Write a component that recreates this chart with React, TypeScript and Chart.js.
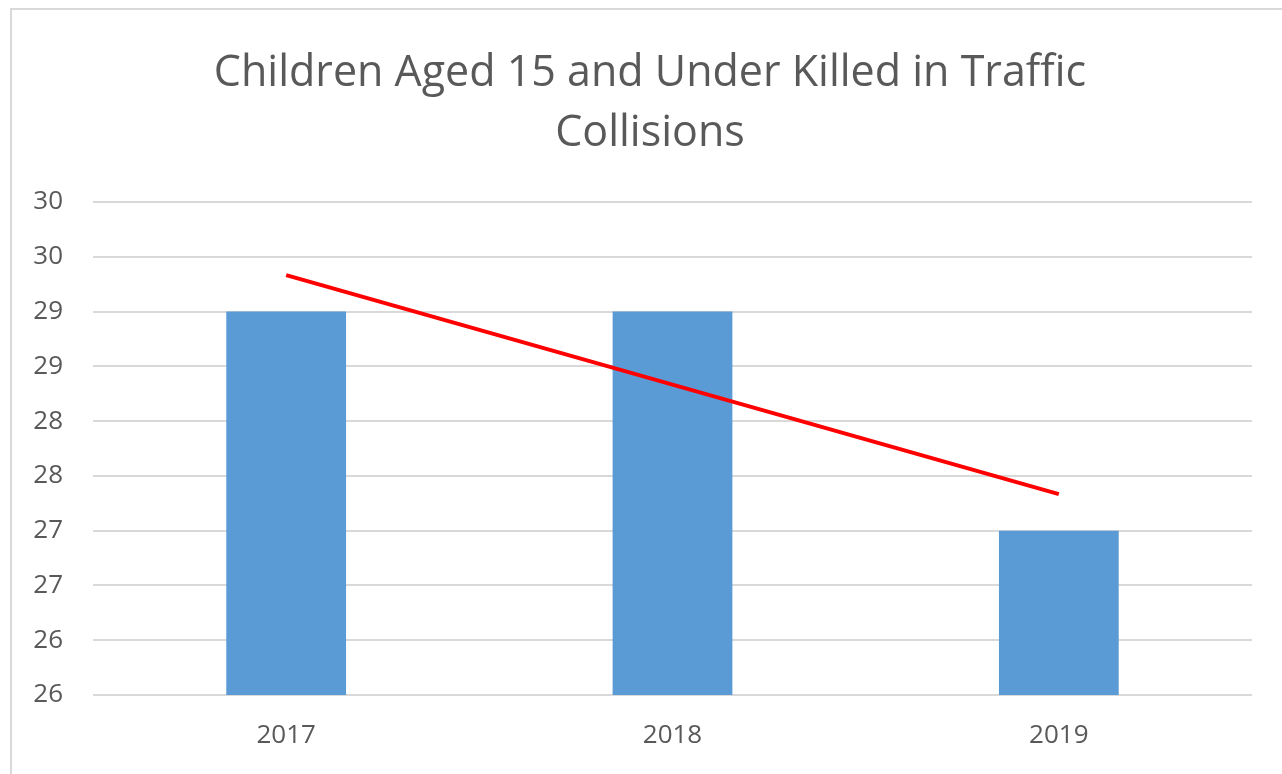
import React, { useEffect, useRef } from "react";
import { Chart, registerables } from "chart.js";

Chart.register(...registerables);

const years = ["2017", "2018", "2019"];
const killed = [29, 29, 27];
const trend = [29.333, 28.333, 27.333];
const titleLines = ["Children Aged 15 and Under Killed in Traffic", "Collisions"];
const yMin = 25.5;
const yMax = 30;
const yStep = 0.5;

const FONT = "'Open Sans', 'DejaVu Sans', sans-serif";

export default function App() {
  const ref = useRef<HTMLCanvasElement | null>(null);

  useEffect(() => {
    const prevMargin = document.body.style.margin;
    document.body.style.margin = "0";
    if (!ref.current) return;
    const chart = new Chart(ref.current, {
      type: "bar",
      data: {
        labels: years,
        datasets: [
          {
            type: "line",
            label: "Trend",
            data: trend,
            borderColor: "#FF0000",
            borderWidth: 4,
            pointRadius: 0,
            fill: false,
            order: 0,
          } as any,
          {
            type: "bar",
            label: "Killed",
            data: killed,
            backgroundColor: "#5B9BD5",
            barPercentage: 0.31,
            categoryPercentage: 1,
            order: 1,
          },
        ],
      },
      options: {
        animation: false,
        responsive: false,
        maintainAspectRatio: false,
        layout: { padding: { left: 0, right: 30, top: 202, bottom: 0 } },
        plugins: {
          legend: { display: false },
          tooltip: { enabled: false },
          title: { display: false },
        },
        scales: {
          x: {
            grid: { display: false },
            border: { display: false },
            ticks: {
              color: "#595959",
              font: { family: FONT, size: 26 },
              padding: 17,
            },
            afterFit: (s: any) => {
              s.height = 79;
            },
          },
          y: {
            min: yMin,
            max: yMax,
            grid: { color: "#d9d9d9", lineWidth: 2, drawTicks: false },
            border: { display: false },
            ticks: {
              stepSize: yStep,
              color: "#595959",
              font: { family: FONT, size: 26 },
              padding: 30,
              callback: (v: any) => String(Math.round(Number(v))),
            },
            afterFit: (s: any) => {
              s.width = 93;
            },
          },
        },
      },
    });
    return () => {
      chart.destroy();
      document.body.style.margin = prevMargin;
    };
  }, []);

  return (
    <div style={{ position: "relative", width: 1282, height: 774, background: "#fff", overflow: "hidden" }}>
      <div
        style={{
          position: "absolute",
          left: 10,
          top: 8,
          width: 1290,
          height: 800,
          borderLeft: "2px solid #d9d9d9",
          borderTop: "2px solid #d9d9d9",
          boxSizing: "border-box",
        }}
      />
      <canvas ref={ref} width={1282} height={774} style={{ position: "absolute", left: 0, top: 0, display: "block" }} />
      <div
        style={{
          position: "absolute",
          left: 0,
          top: 40,
          width: 1300,
          textAlign: "center",
          fontFamily: FONT,
          fontSize: 43,
          lineHeight: "60px",
          color: "#595959",
          whiteSpace: "nowrap",
        }}
      >
        {titleLines.map((t, i) => (
          <div key={i}>{t}</div>
        ))}
      </div>
    </div>
  );
}
